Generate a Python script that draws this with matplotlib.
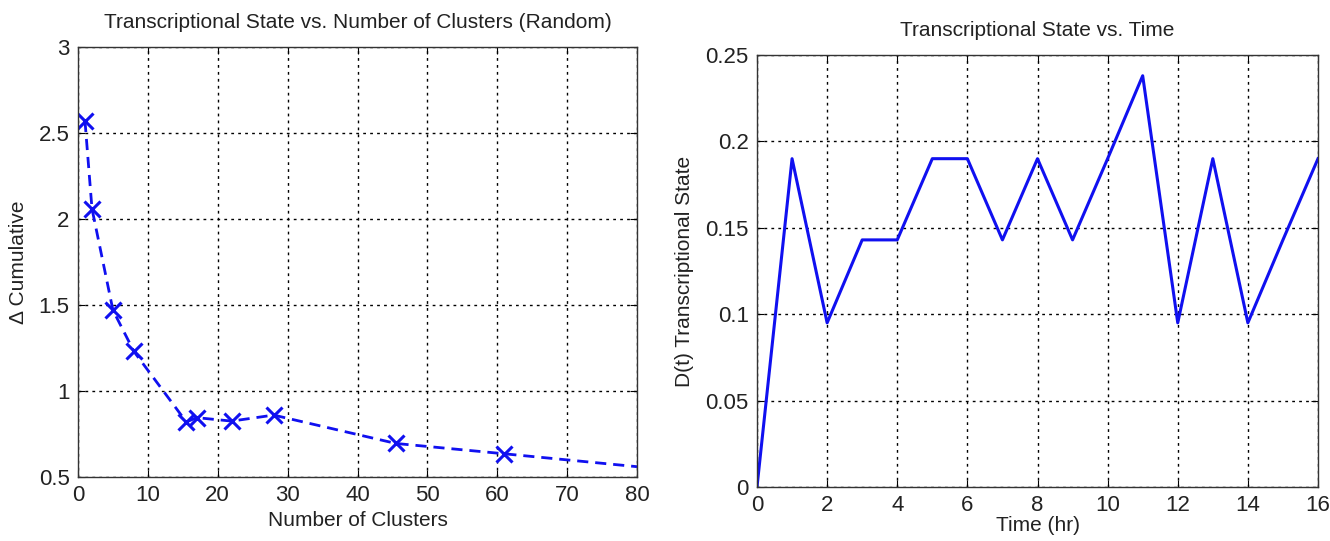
import matplotlib.pyplot as plt

# Data
clusters = [1, 2, 5, 8, 15.5, 17, 22, 28, 45.5, 61, 80]
delta_cum = [2.57, 2.06, 1.47, 1.23, 0.82, 0.845, 0.825, 0.86, 0.695, 0.635, 0.56]
marked = list(range(10))  # last point has no marker

hours = list(range(17))
state = [0, 0.19, 0.095, 0.143, 0.143, 0.19, 0.19, 0.143, 0.19, 0.143,
         0.19, 0.238, 0.095, 0.19, 0.095, 0.143, 0.19]

plt.rcParams['font.family'] = ['Liberation Sans', 'DejaVu Sans']

fig = plt.figure(figsize=(13.3, 5.41), dpi=100)
ax1 = fig.add_axes([78 / 1330, 1 - 477 / 541, 559 / 1330, 430 / 541])
ax2 = fig.add_axes([757 / 1330, 1 - 487 / 541, 561 / 1330, 432 / 541])

blue = '#1010f0'
txt = '#222222'


def style(ax):
    ax.grid(True, color='black', linestyle=(0, (2, 3)), linewidth=1.0)
    ax.tick_params(direction='in', length=5, labelsize=16, top=True, right=True, pad=6,
                   labelcolor=txt)
    for s in ax.spines.values():
        s.set_linewidth(1.0)
        s.set_color('#333333')


# Left panel
ax1.plot(clusters, delta_cum, color=blue, linestyle=(0, (4, 2.5)), linewidth=2,
         marker='x', markersize=11, markeredgewidth=2.2, markevery=marked)
ax1.set_xlim(0, 80)
ax1.set_ylim(0.5, 3)
ax1.set_xticks(range(0, 81, 10))
ax1.set_yticks([0.5, 1, 1.5, 2, 2.5, 3])
ax1.set_yticklabels(['0.5', '1', '1.5', '2', '2.5', '3'])
ax1.set_title('Transcriptional State vs. Number of Clusters (Random)', fontsize=15, pad=14, color=txt)
ax1.set_xlabel('Number of Clusters', fontsize=15, labelpad=3, color=txt)
ax1.set_ylabel('Δ Cumulative', fontsize=15, labelpad=8, color=txt)
style(ax1)

# Right panel
ax2.plot(hours, state, color=blue, linewidth=2.2)
ax2.set_xlim(0, 16)
ax2.set_ylim(0, 0.25)
ax2.set_xticks(range(0, 17, 2))
ax2.set_yticks([0, 0.05, 0.1, 0.15, 0.2, 0.25])
ax2.set_yticklabels(['0', '0.05', '0.1', '0.15', '0.2', '0.25'])
ax2.set_title('Transcriptional State vs. Time', fontsize=15, pad=14, color=txt)
ax2.set_xlabel('Time (hr)', fontsize=15, labelpad=0, color=txt)
ax2.set_ylabel('D(t) Transcriptional State', fontsize=15, labelpad=8, color=txt)
style(ax2)

fig.savefig('out.png', dpi=100)
